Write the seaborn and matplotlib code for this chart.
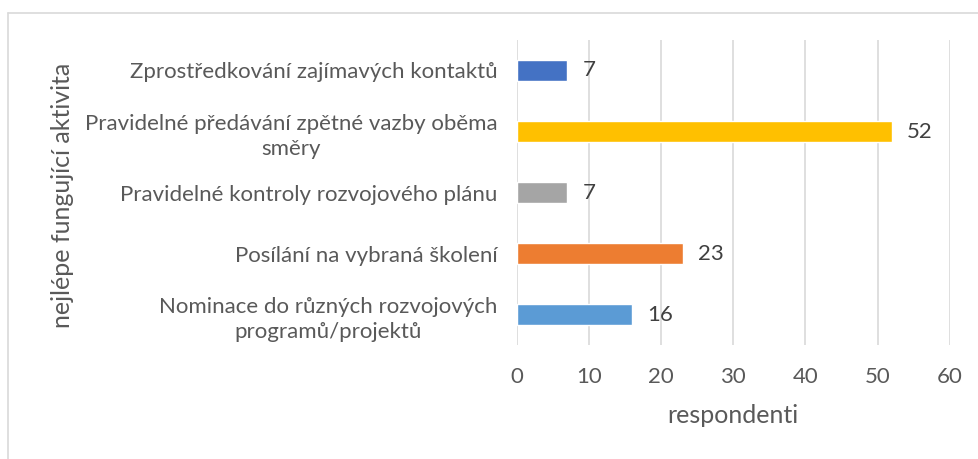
import pandas as pd
import seaborn as sns
import matplotlib.pyplot as plt
from matplotlib.lines import Line2D

# Data
activities = [
    "Zprostředkování zajímavých kontaktů",
    "Pravidelné předávání zpětné vazby oběma směry",
    "Pravidelné kontroly rozvojového plánu",
    "Posílání na vybraná školení",
    "Nominace do různých rozvojových programů/projektů",
]
tick_labels = [
    "Zprostředkování zajímavých kontaktů",
    "Pravidelné předávání zpětné vazby oběma\nsměry",
    "Pravidelné kontroly rozvojového plánu",
    "Posílání na vybraná školení",
    "Nominace do různých rozvojových\nprogramů/projektů",
]
respondents = [7, 52, 7, 23, 16]
colors = ["#4472C4", "#FFC000", "#A5A5A5", "#ED7D31", "#5B9BD5"]
x_ticks = [0, 10, 20, 30, 40, 50, 60]

df = pd.DataFrame({"aktivita": activities, "respondenti": respondents})

sns.set_style("white")
plt.rcParams["font.family"] = ["Lato", "DejaVu Sans"]

fig = plt.figure(figsize=(9.79, 4.59), dpi=100)
ax = fig.add_axes([0.528, 0.248, 0.442, 0.665])

sns.barplot(data=df, y="aktivita", x="respondenti", hue="aktivita",
            palette=colors, saturation=1, orient="h", width=0.35,
            legend=False, ax=ax)

# value labels next to bars
for cont in ax.containers:
    ax.bar_label(cont, padding=11, fontsize=16, color="#404040")

ax.set_xlim(0, 60)
ax.set_ylim(4.5, -0.5)
ax.set_xticks(x_ticks)
ax.set_yticks(range(len(tick_labels)))
ax.set_yticklabels(tick_labels)
for lab in ax.get_yticklabels():
    lab.set_multialignment("center")
    lab.set_linespacing(1.35)
ax.tick_params(axis="y", length=0, pad=14, labelsize=16, labelcolor="#595959")
ax.tick_params(axis="x", length=0, pad=16, labelsize=16, labelcolor="#595959")

ax.xaxis.grid(True, color="#D9D9D9", linewidth=1.2)
ax.set_axisbelow(True)
for s in ax.spines.values():
    s.set_visible(False)

ax.set_xlabel("respondenti", fontsize=18, color="#595959", labelpad=12)
ax.set_ylabel("")
fig.text(0.064, 0.575, "nejlépe fungující aktivita", rotation=90,
         ha="center", va="center", fontsize=18, color="#595959")

# light chart-area border (top and left edges visible in reference)
fig.add_artist(Line2D([0.008, 1.0], [0.972, 0.972], color="#D9D9D9", lw=1.2,
                      transform=fig.transFigure))
fig.add_artist(Line2D([0.008, 0.008], [0.0, 0.972], color="#D9D9D9", lw=1.2,
                      transform=fig.transFigure))

fig.savefig("out.png", dpi=100)
plt.close(fig)
